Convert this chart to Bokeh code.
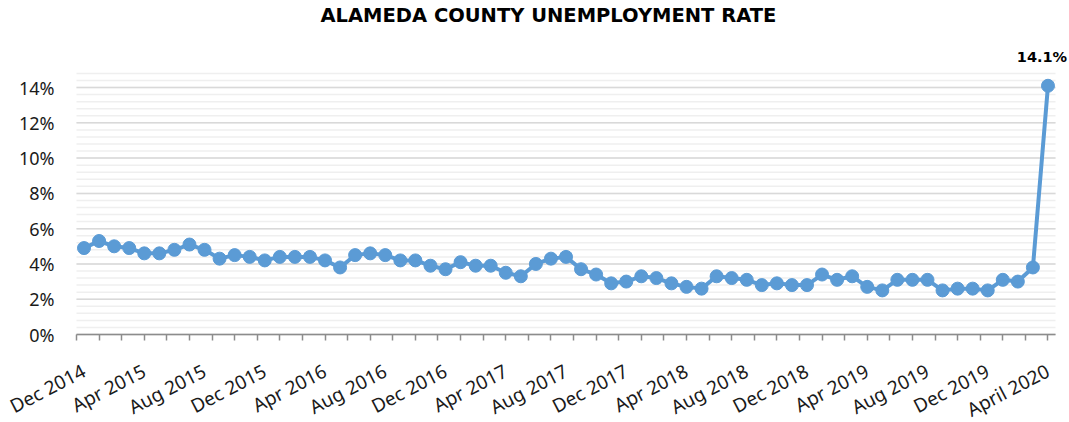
import math
from bokeh.plotting import figure
from bokeh.models import ColumnDataSource, FixedTicker, Range1d
from bokeh.core.properties import value
from bokeh.embed import file_html
from bokeh.resources import INLINE

# ---- data ----
rates = [4.9, 5.3, 5.0, 4.9, 4.6, 4.6, 4.8, 5.1, 4.8, 4.3, 4.5, 4.4, 4.2,
         4.4, 4.4, 4.4, 4.2, 3.8, 4.5, 4.6, 4.5, 4.2, 4.2, 3.9, 3.7, 4.1,
         3.9, 3.9, 3.5, 3.3, 4.0, 4.3, 4.4, 3.7, 3.4, 2.9, 3.0, 3.3, 3.2,
         2.9, 2.7, 2.6, 3.3, 3.2, 3.1, 2.8, 2.9, 2.8, 2.8, 3.4, 3.1, 3.3,
         2.7, 2.5, 3.1, 3.1, 3.1, 2.5, 2.6, 2.6, 2.5, 3.1, 3.0, 3.8, 14.1]
tick_positions = [0, 4, 8, 12, 16, 20, 24, 28, 32, 36, 40, 44, 48, 52, 56, 60, 64]
tick_labels = ["Dec 2014", "Apr 2015", "Aug 2015", "Dec 2015", "Apr 2016",
               "Aug 2016", "Dec 2016", "Apr 2017", "Aug 2017", "Dec 2017",
               "Apr 2018", "Aug 2018", "Dec 2018", "Apr 2019", "Aug 2019",
               "Dec 2019", "April 2020"]
y_ticks = [0, 2, 4, 6, 8, 10, 12, 14]
y_labels = ["0%", "2%", "4%", "6%", "8%", "10%", "12%", "14%"]
y_minor = [round(0.4 * k, 2) for k in range(38)]
title_text = "ALAMEDA COUNTY UNEMPLOYMENT RATE"
peak_label = "14.1%"

n = len(rates)
idx = list(range(n))
src = ColumnDataSource(dict(x=idx, y=rates))

BLUE = "#5b9bd5"

# layout (pixels) -> the canvas is the frame; axes are pinned inside it
W, H = 1069, 422
LEFT, RIGHT, TOP, ZERO = 76, 1055, 26, 334
PX_X = (RIGHT - LEFT) / n          # pixels per month
PX_Y = 17.64                        # pixels per percent
x0 = -0.5 - LEFT / PX_X
x1 = n - 0.5 + (W - RIGHT) / PX_X
y0 = -(H - ZERO) / PX_Y
y1 = (ZERO - TOP) / PX_Y

p = figure(width=W, height=H, output_backend="svg", toolbar_location=None,
           x_range=Range1d(x0, x1), y_range=Range1d(y0, y1),
           min_border_left=0, min_border_right=0, min_border_bottom=0,
           min_border_top=TOP)
p.outline_line_color = None
p.background_fill_color = "white"
p.border_fill_color = "white"
p.xgrid.visible = False
p.ygrid.visible = False

p.title.text = title_text
p.title.align = "left"
p.title.offset = 320
p.title.text_font = "DejaVu Sans"
p.title.text_font_style = "bold"
p.title.text_font_size = "19.5px"
p.title.text_color = "#000000"
p.title.standoff = 0

# gridlines limited to the category span
p.segment(x0=[-0.5] * len(y_minor), x1=[n - 0.5] * len(y_minor), y0=y_minor,
          y1=y_minor, line_color="#efefef", line_width=1.5)
p.segment(x0=[-0.5] * len(y_ticks), x1=[n - 0.5] * len(y_ticks), y0=y_ticks,
          y1=y_ticks, line_color="#d9d9d9", line_width=1.5)

# y axis
p.yaxis.fixed_location = -0.5
p.yaxis.ticker = FixedTicker(ticks=y_ticks)
p.yaxis.major_label_overrides = {t: l for t, l in zip(y_ticks, y_labels)}
p.yaxis.axis_line_color = None
p.yaxis.major_tick_line_color = None
p.yaxis.minor_tick_line_color = None
p.yaxis.major_label_standoff = 16
p.yaxis.major_label_text_font = "Noto Sans"
p.yaxis.major_label_text_font_size = "18px"
p.yaxis.major_label_text_color = "#1a1a1a"

# x axis
p.xaxis.fixed_location = 0
p.xaxis.bounds = (-0.5, n - 0.5)
p.xaxis.ticker = FixedTicker(ticks=tick_positions,
                             minor_ticks=[-0.5 + 1.5 * k for k in range(44)])
p.xaxis.major_label_overrides = {t: l for t, l in zip(tick_positions, tick_labels)}
p.xaxis.axis_line_color = "#8c8c8c"
p.xaxis.axis_line_width = 1.5
p.xaxis.major_tick_line_color = None
p.xaxis.major_tick_out = 0
p.xaxis.major_tick_in = 0
p.xaxis.minor_tick_line_color = "#8c8c8c"
p.xaxis.minor_tick_line_width = 1.5
p.xaxis.minor_tick_in = 0
p.xaxis.minor_tick_out = 6
p.xaxis.major_label_orientation = 0.48
p.xaxis.major_label_standoff = 29
p.xaxis.major_label_text_font = "Noto Sans"
p.xaxis.major_label_text_font_size = "19px"
p.xaxis.major_label_text_color = "#1a1a1a"

p.line("x", "y", source=src, line_color=BLUE, line_width=4)
p.scatter("x", "y", source=src, size=13, fill_color=BLUE, line_color=BLUE)

last = ColumnDataSource(dict(x=[idx[-1]], y=[rates[-1]], t=[peak_label]))
p.text("x", "y", text="t", source=last, text_font=value("DejaVu Sans"),
       text_font_style="bold", text_font_size="14.5px", text_color="#000000",
       text_align="center", text_baseline="bottom", x_offset=-6, y_offset=-21)

open("out.html", "w").write(file_html(p, INLINE))
